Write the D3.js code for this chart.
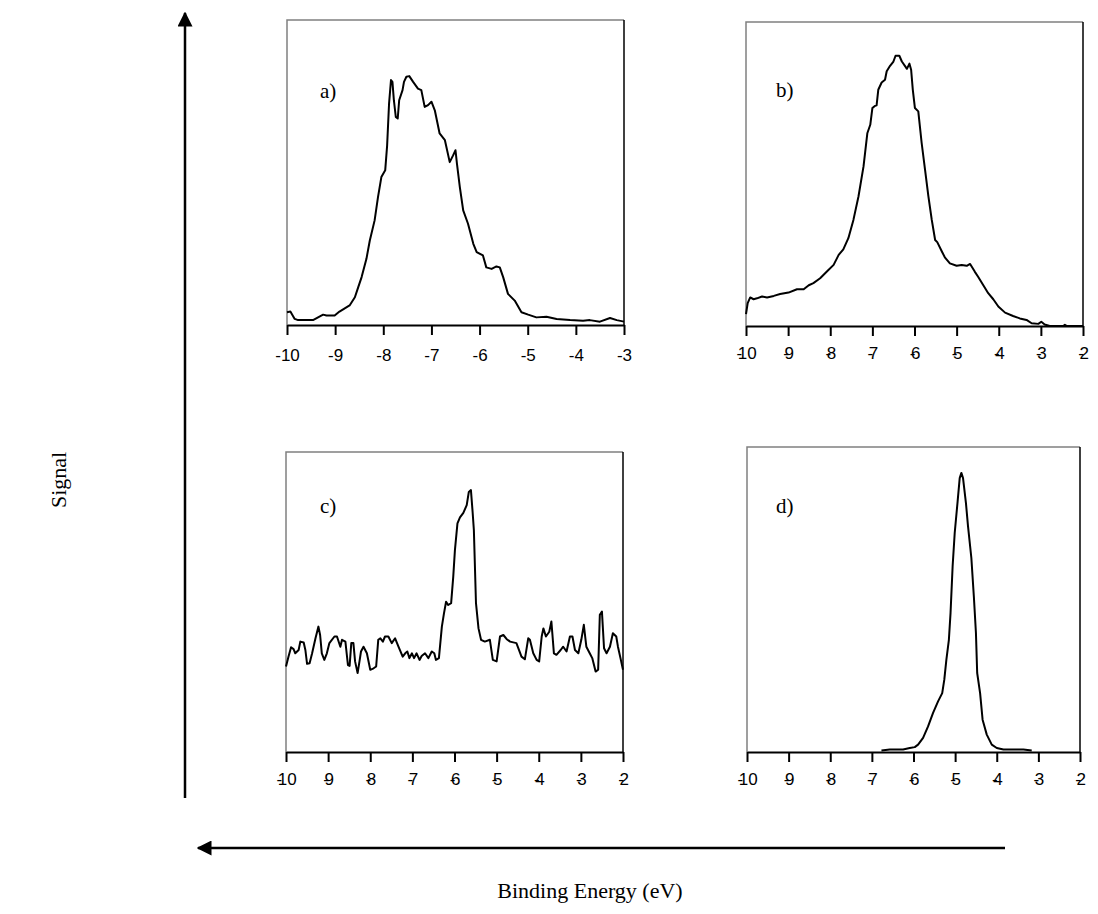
<!DOCTYPE html>
<html>
<head>
<meta charset="utf-8">
<script src="https://cdn.jsdelivr.net/npm/d3@7"></script>
<style>
  html, body { margin: 0; padding: 0; background: #fff; }
  svg { display: block; }
</style>
</head>
<body>
<svg id="chart" width="1098" height="914"></svg>
<script>
// Photoelectron spectra: four panels, signal vs binding energy (eV)

// Panel a)
const energyA = [-10.00,-9.93,-9.84,-9.77,-9.46,-9.25,-9.18,-9.01,-8.91,-8.70,-8.59,-8.52,-8.45,-8.35,-8.28,-8.18,-8.11,-8.04,-7.96,-7.92,-7.88,-7.84,-7.81,-7.78,-7.74,-7.70,-7.67,-7.60,-7.57,-7.52,-7.46,-7.38,-7.28,-7.21,-7.14,-7.07,-7.00,-6.93,-6.83,-6.72,-6.62,-6.55,-6.50,-6.47,-6.41,-6.34,-6.24,-6.13,-6.06,-5.93,-5.86,-5.75,-5.65,-5.58,-5.51,-5.41,-5.27,-5.13,-4.99,-4.82,-4.61,-4.40,-4.12,-3.85,-3.71,-3.50,-3.29,-3.15,-3.00];
const signalA = [4.2,4.4,2.0,1.6,1.6,3.4,3.1,3.1,4.4,6.4,9.1,12.4,15.7,21.7,27.7,34.3,41.9,48.5,50.7,58.9,72.6,80.3,79.7,73.7,68.2,67.7,73.7,77.0,79.7,81.4,81.6,79.7,77.5,77.0,71.5,72.1,73.2,70.4,62.8,60.6,53.4,55.6,57.3,52.9,45.2,37.6,33.2,26.6,23.9,22.8,18.9,18.4,19.2,18.9,15.7,10.2,8.0,4.2,3.4,2.5,2.7,2.0,1.6,1.4,1.6,1.1,2.3,1.6,1.1];

// Panel b)
const energyB = [-10.00,-9.96,-9.90,-9.82,-9.74,-9.62,-9.50,-9.34,-9.19,-8.99,-8.79,-8.63,-8.51,-8.40,-8.24,-8.08,-7.92,-7.80,-7.69,-7.57,-7.45,-7.33,-7.21,-7.12,-7.05,-7.00,-6.94,-6.90,-6.86,-6.78,-6.70,-6.66,-6.58,-6.50,-6.45,-6.36,-6.30,-6.22,-6.18,-6.12,-6.08,-6.04,-5.99,-5.91,-5.83,-5.75,-5.67,-5.59,-5.51,-5.46,-5.35,-5.28,-5.16,-5.00,-4.88,-4.76,-4.68,-4.57,-4.49,-4.37,-4.25,-4.13,-4.01,-3.85,-3.66,-3.50,-3.34,-3.22,-3.06,-2.99,-2.91,-2.79,-2.47,-2.43,-2.38,-2.00];
const signalB = [3.9,7.5,9.4,8.8,9.1,9.7,9.4,9.9,10.5,11.0,12.1,12.1,13.4,14.1,15.7,17.9,20.1,23.4,25.2,28.9,34.9,42.6,52.5,63.4,66.2,71.7,72.4,72.6,77.7,80.1,81.0,83.8,85.6,87.0,88.9,88.9,87.0,85.4,84.6,86.3,84.3,77.7,71.7,70.6,60.2,51.4,42.6,34.9,28.3,27.6,24.5,22.6,20.6,19.8,20.1,19.8,20.4,17.9,16.2,13.5,10.8,8.8,6.4,4.4,3.3,2.5,2.0,0.9,0.7,1.4,0.5,0,0,0.4,0,0];

// Panel c)
const energyC = [-10.00,-9.94,-9.88,-9.82,-9.78,-9.70,-9.66,-9.58,-9.54,-9.50,-9.44,-9.38,-9.30,-9.23,-9.19,-9.15,-9.09,-9.03,-8.97,-8.85,-8.79,-8.71,-8.67,-8.59,-8.53,-8.49,-8.45,-8.40,-8.36,-8.30,-8.25,-8.22,-8.16,-8.08,-8.00,-7.92,-7.86,-7.81,-7.76,-7.70,-7.65,-7.57,-7.49,-7.41,-7.33,-7.23,-7.17,-7.12,-7.07,-7.01,-6.96,-6.90,-6.83,-6.78,-6.70,-6.62,-6.54,-6.48,-6.44,-6.37,-6.30,-6.25,-6.20,-6.15,-6.08,-6.03,-5.99,-5.93,-5.87,-5.79,-5.71,-5.66,-5.61,-5.57,-5.54,-5.49,-5.43,-5.37,-5.28,-5.16,-5.09,-5.00,-4.92,-4.84,-4.76,-4.68,-4.53,-4.41,-4.33,-4.25,-4.21,-4.13,-4.05,-3.99,-3.93,-3.89,-3.83,-3.75,-3.70,-3.64,-3.58,-3.48,-3.42,-3.34,-3.26,-3.20,-3.14,-3.06,-2.99,-2.93,-2.87,-2.79,-2.73,-2.65,-2.59,-2.55,-2.50,-2.45,-2.39,-2.31,-2.24,-2.16,-2.12,-2.06,-2.00];
const signalC = [28.5,31.8,34.9,34.3,32.9,34.0,36.8,36.5,34.0,29.4,29.6,32.9,37.9,41.8,39.0,32.9,30.7,32.9,36.3,38.5,38.5,35.1,37.4,36.8,29.0,28.7,36.3,36.3,30.2,26.3,30.7,33.5,35.1,32.9,27.4,27.9,28.5,37.4,37.9,36.8,38.5,38.5,36.3,37.9,35.1,31.8,32.9,33.5,31.3,32.9,31.3,32.9,30.7,32.0,32.9,31.3,33.5,32.9,30.7,31.3,41.8,46.2,50.1,49.0,49.6,58.4,67.3,76.2,78.2,79.7,82.3,86.7,87.3,80.0,73.9,49.6,41.2,37.4,36.8,37.4,30.7,30.2,38.5,39.0,37.6,36.8,36.3,31.8,30.9,37.9,37.4,32.9,30.7,30.2,38.5,41.2,38.5,40.1,43.5,32.9,32.4,34.0,35.1,33.5,38.5,38.5,34.0,32.9,37.4,42.4,35.1,32.9,31.3,26.8,27.4,45.7,46.8,34.6,32.9,35.1,39.6,38.5,35.1,31.3,27.4];

// Panel d)
const energyD = [-6.77,-6.57,-6.25,-6.09,-5.97,-5.89,-5.77,-5.65,-5.53,-5.41,-5.31,-5.26,-5.21,-5.15,-5.11,-5.06,-5.01,-4.94,-4.89,-4.85,-4.81,-4.74,-4.69,-4.61,-4.55,-4.50,-4.47,-4.40,-4.34,-4.24,-4.12,-4.00,-3.84,-3.36,-3.16];
const signalD = [0.5,0.8,0.8,1.3,1.6,2.4,4.6,8.4,12.8,16.6,19.3,23.7,30.3,36.8,45.6,60.9,71.8,82.2,89.8,91.5,89.8,81.6,74.0,63.6,51.0,39.0,25.9,19.3,10.6,5.7,2.4,1.3,0.8,0.8,0.5];

// Tick values along each energy axis
const ticksA = [-10,-9,-8,-7,-6,-5,-4,-3];
const ticksBCD = [-10,-9,-8,-7,-6,-5,-4,-3,-2];

const panelLabels = ["a)", "b)", "c)", "d)"];

// layout: plot box [left, top, right, bottom] and label offset inside it
const panels = [
  { label: panelLabels[0], energy: energyA, signal: signalA, ticks: ticksA,   box: [287, 20, 624, 325],  lab: [33, 78], squeeze: false },
  { label: panelLabels[1], energy: energyB, signal: signalB, ticks: ticksBCD, box: [746, 22, 1083, 326], lab: [30, 75], squeeze: true },
  { label: panelLabels[2], energy: energyC, signal: signalC, ticks: ticksBCD, box: [286, 452, 623, 752], lab: [34, 61], squeeze: true },
  { label: panelLabels[3], energy: energyD, signal: signalD, ticks: ticksBCD, box: [747, 447, 1080, 752], lab: [29, 66], squeeze: true }
];

const svg = d3.select("#chart");

svg.append("defs").append("marker")
  .attr("id", "head")
  .attr("viewBox", "0 0 10 10")
  .attr("refX", 9).attr("refY", 5)
  .attr("markerWidth", 6).attr("markerHeight", 6)
  .attr("markerUnits", "strokeWidth")
  .attr("orient", "auto")
  .append("path")
  .attr("d", "M0,0 L10,5 L0,10 Z")
  .attr("fill", "#000");

panels.forEach(p => {
  const [x0, y0, x1, y1] = p.box;
  const x = d3.scaleLinear().domain([p.ticks[0], p.ticks[p.ticks.length - 1]]).range([x0, x1]);
  const y = d3.scaleLinear().domain([0, 100]).range([y1, y0]);
  const g = svg.append("g");

  // plot area border: grey top/left, dark right
  g.append("path")
    .attr("d", `M${x0},${y1} V${y0} H${x1}`)
    .attr("fill", "none").attr("stroke", "#808080").attr("stroke-width", 1.5);
  g.append("line")
    .attr("x1", x1).attr("x2", x1).attr("y1", y0).attr("y2", y1)
    .attr("stroke", "#000").attr("stroke-width", 1.5);

  // spectrum trace
  const pts = p.energy.map((e, i) => [e, p.signal[i]]);
  g.append("path")
    .datum(pts)
    .attr("fill", "none")
    .attr("stroke", "#000")
    .attr("stroke-width", 2)
    .attr("stroke-linejoin", "round")
    .attr("d", d3.line().x(d => x(d[0])).y(d => y(d[1])));

  // energy axis
  const axis = g.append("g")
    .attr("transform", `translate(0,${y1})`)
    .call(d3.axisBottom(x).tickValues(p.ticks).tickSize(10).tickSizeOuter(0).tickFormat(d => String(d)));
  axis.select(".domain").attr("stroke", "#000").attr("stroke-width", 2);
  axis.selectAll(".tick line").attr("stroke", "#000").attr("stroke-width", 2);
  axis.selectAll(".tick text")
    .attr("font-family", "'Liberation Sans', Arial, sans-serif")
    .attr("font-size", 17)
    .attr("fill", "#000")
    .attr("dy", p.squeeze ? "1.2em" : "1.35em");

  if (p.squeeze) {
    // minus sign pushed into the digits
    axis.selectAll(".tick text").each(function(d) {
      const t = d3.select(this);
      t.text(null);
      t.append("tspan").text("-");
      t.append("tspan").attr("dx", "-0.26em").text(String(Math.abs(d)));
    });
  }

  svg.append("text")
    .attr("x", x0 + p.lab[0]).attr("y", y0 + p.lab[1])
    .attr("font-family", "'Liberation Serif', 'Times New Roman', serif")
    .attr("font-size", 21)
    .text(p.label);
});

// signal arrow (up)
svg.append("line")
  .attr("x1", 185).attr("x2", 185).attr("y1", 798).attr("y2", 13)
  .attr("stroke", "#000").attr("stroke-width", 2.5)
  .attr("marker-end", "url(#head)");

// energy arrow (pointing left)
svg.append("line")
  .attr("x1", 1005).attr("x2", 198).attr("y1", 848).attr("y2", 848)
  .attr("stroke", "#000").attr("stroke-width", 2.5)
  .attr("marker-end", "url(#head)");

svg.append("text")
  .attr("transform", "translate(66,480) rotate(-90)")
  .attr("text-anchor", "middle")
  .attr("font-family", "'Liberation Serif', 'Times New Roman', serif")
  .attr("font-size", 22)
  .text("Signal");

svg.append("text")
  .attr("x", 590).attr("y", 898)
  .attr("text-anchor", "middle")
  .attr("font-family", "'Liberation Serif', 'Times New Roman', serif")
  .attr("font-size", 22)
  .text("Binding Energy (eV)");
</script>
</body>
</html>
